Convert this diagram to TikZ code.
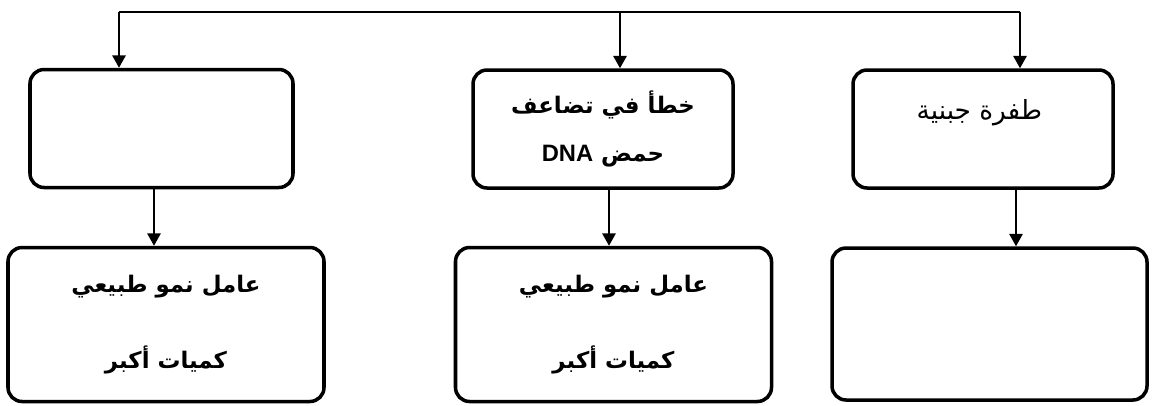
\documentclass[tikz,border=0pt]{standalone}
\usepackage{fontspec}
\usepackage{tikz}
\newfontfamily\arabicfont[Script=Arabic]{DejaVu Sans}
\newfontfamily\latinfont{Liberation Sans}
\TeXXeTstate=1
\usetikzlibrary{arrows.meta, positioning}
\tikzset{
    box/.style={draw=black, line width=2pt, rounded corners=8pt, align=center,
                inner sep=0pt, font=\arabicfont\fontsize{13}{15}\selectfont},
    topbox/.style={box, minimum width=5.2cm, minimum height=2.36cm},
    lowbox/.style={box, minimum width=6.32cm, minimum height=3.08cm},
    arr/.style={-{Triangle[length=7pt, width=7.5pt]}, line width=1.2pt}
}

\begin{document}
\begin{tikzpicture}
        \useasboundingbox (0,0) rectangle (23.04,-8.1);
        % upper row
        \node[topbox, minimum width=5.26cm] (topL) at (3.23,-2.57) {};
        \node[topbox] (topM) at (12.06,-2.58) {
            {\bfseries\beginR خطأ في تضاعف\endR}\\[0.42cm]
            {\bfseries\beginR حمض \beginL{\latinfont\fontsize{13.5}{15}\selectfont DNA}\endL\endR}
        };
        \node[topbox] (topR) at (19.66,-2.58) {
            \raisebox{0.2cm}[0pt][0pt]{\fontsize{15}{17}\selectfont\beginR طفرة جبنية\endR}
        };
        % lower row
        \node[lowbox] (lowL) at (3.32,-6.49) {
            {\bfseries\beginR عامل نمو طبيعي\endR}\\[0.93cm]
            {\bfseries\beginR كميات أكبر\endR}
        };
        \node[lowbox] (lowM) at (12.27,-6.49) {
            {\bfseries\beginR عامل نمو طبيعي\endR}\\[0.93cm]
            {\bfseries\beginR كميات أكبر\endR}
        };
        \node[lowbox, minimum width=6.3cm, minimum height=3.04cm] (lowR) at (19.79,-6.48) {};
        % bus on top
        \coordinate (busL) at (2.38,-0.24);
        \coordinate (busM) at (12.40,-0.24);
        \coordinate (busR) at (20.40,-0.24);
        \draw[line width=1.2pt] (busL) -- (busR);
        \draw[arr] (busL) -- (busL |- topL.north);
        \draw[arr] (busM) -- (busM |- topM.north);
        \draw[arr] (busR) -- (busR |- topR.north);
        % down arrows
        \coordinate (dropL) at (3.08,0);
        \coordinate (dropM) at (12.18,0);
        \coordinate (dropR) at (20.32,0);
        \draw[arr] (dropL |- topL.south) -- (dropL |- lowL.north);
        \draw[arr] (dropM |- topM.south) -- (dropM |- lowM.north);
        \draw[arr] (dropR |- topR.south) -- (dropR |- lowR.north);
    \end{tikzpicture}
\end{document}
